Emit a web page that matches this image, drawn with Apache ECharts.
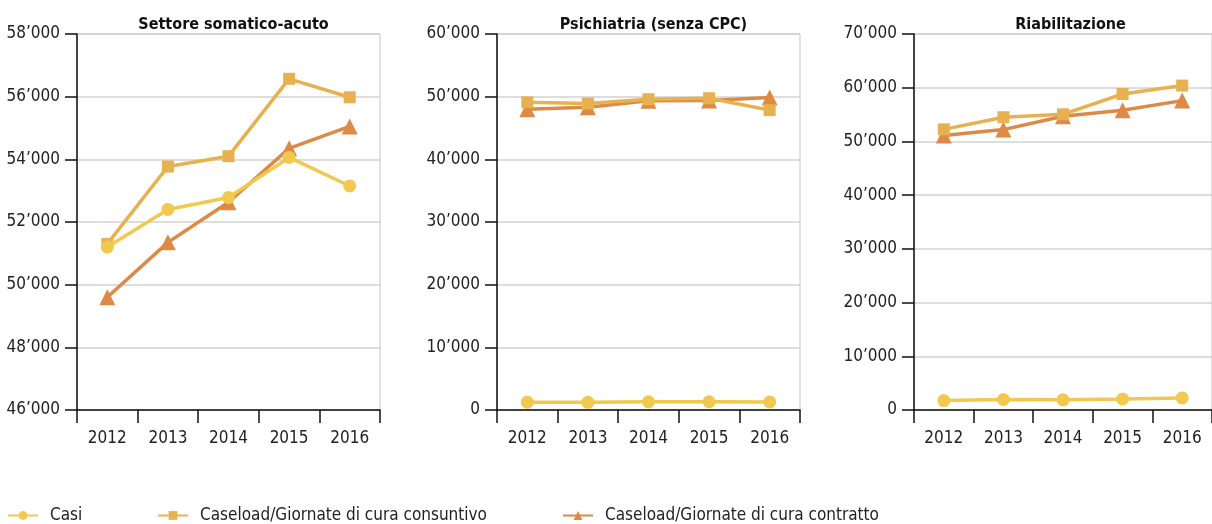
<!DOCTYPE html>
<html>
<head>
<meta charset="utf-8">
<script src="https://cdn.jsdelivr.net/npm/echarts@6/dist/echarts.min.js"></script>
<style>
  html, body { margin: 0; padding: 0; background: #fff; }
  #main { width: 1212px; height: 524px; }
</style>
</head>
<body>
<div id="main"></div>
<script>
// dati
var anni = ['2012', '2013', '2014', '2015', '2016'];
var titoli = ['Settore somatico-acuto', 'Psichiatria (senza CPC)', 'Riabilitazione'];
var nomi = ['Casi', 'Caseload/Giornate di cura consuntivo', 'Caseload/Giornate di cura contratto'];

// Settore somatico-acuto
var acutoCasi = [51200, 52400, 52780, 54060, 53150];
var acutoConsuntivo = [51300, 53770, 54100, 56570, 55980];
var acutoContratto = [49600, 51350, 52630, 54350, 55050];

// Psichiatria
var psiCasi = [1250, 1230, 1300, 1320, 1290];
var psiConsuntivo = [49100, 48900, 49600, 49750, 47850];
var psiContratto = [48000, 48300, 49350, 49400, 49850];

// Riabilitazione
var riaCasi = [1750, 1950, 1900, 2050, 2250];
var riaConsuntivo = [52250, 54500, 55050, 58830, 60400];
var riaContratto = [51100, 52200, 54700, 55800, 57600];

// assi y
var yMin = [46000, 0, 0];
var yMax = [58000, 60000, 70000];
var yStep = [2000, 10000, 10000];

var colori = ['#f2c94f', '#e8b14f', '#dc8a46'];
var simboli = ['circle', 'rect', 'triangle'];
var dimSimboli = [13, 12, 16];

var font = '"DejaVu Sans Condensed", "Liberation Sans Narrow", sans-serif';

function migliaia(v) {
    if (v === 0) return '0';
    var s = String(v);
    return s.slice(0, s.length - 3) + '\u2019' + s.slice(s.length - 3);
}

var dati = [
    [acutoCasi, acutoConsuntivo, acutoContratto],
    [psiCasi, psiConsuntivo, psiContratto],
    [riaCasi, riaConsuntivo, riaContratto]
];

var griglie = [
    { left: 77, right: 832 },
    { left: 497, right: 412 },
    { left: 914, right: -5 }
];

var myChart = echarts.init(document.getElementById('main'));

var grid = [], xAxis = [], yAxis = [], series = [], title = [];
for (var i = 0; i < 3; i++) {
    grid.push({
        left: griglie[i].left,
        right: griglie[i].right,
        top: 34,
        bottom: 114,
        show: true,
        borderColor: '#c4c4c4',
        borderWidth: 1
    });
    var centro = (griglie[i].left + (1212 - griglie[i].right)) / 2;
    title.push({
        text: titoli[i],
        left: centro,
        top: 12,
        textAlign: 'center',
        textStyle: { fontFamily: font, fontWeight: 'bold', fontSize: 16, color: '#111' }
    });
    xAxis.push({
        type: 'category',
        gridIndex: i,
        data: anni,
        boundaryGap: true,
        axisLine: { lineStyle: { color: '#111', width: 1.5 } },
        axisTick: { show: true, length: 13, lineStyle: { color: '#111', width: 1.5 } },
        axisLabel: { interval: 0, margin: 20, fontFamily: font, fontSize: 17, color: '#222' }
    });
    yAxis.push({
        type: 'value',
        gridIndex: i,
        min: yMin[i],
        max: yMax[i],
        interval: yStep[i],
        axisLine: { show: true, lineStyle: { color: '#111', width: 1.5 } },
        axisTick: { show: true, length: 12, lineStyle: { color: '#111', width: 1.5 } },
        axisLabel: { margin: 17, fontFamily: font, fontSize: 17, color: '#222', formatter: migliaia },
        splitLine: { show: true, lineStyle: { color: '#d2d2d2', width: 1.5 } }
    });
    // disegno prima il contratto, poi consuntivo, poi casi
    for (var k = 2; k >= 0; k--) {
        series.push({
            name: nomi[k],
            type: 'line',
            xAxisIndex: i,
            yAxisIndex: i,
            data: dati[i][k],
            symbol: simboli[k],
            symbolSize: dimSimboli[k],
            showAllSymbol: true,
            itemStyle: { color: colori[k] },
            lineStyle: { color: colori[k], width: 3.5 },
            z: 3 + (2 - k)
        });
    }
}

// tre legende separate per posizionarle come nell'originale
var legendePos = [2, 152, 557];
var legend = [];
for (var j = 0; j < 3; j++) {
    legend.push({
        data: [nomi[j]],
        left: legendePos[j],
        top: 502,
        itemWidth: 30,
        itemHeight: 11,
        textStyle: { fontFamily: font, fontSize: 17, color: '#222', padding: [0, 0, 0, 7] }
    });
}

var option = {
    animation: false,
    title: title,
    legend: legend,
    grid: grid,
    xAxis: xAxis,
    yAxis: yAxis,
    series: series
};
myChart.setOption(option);
</script>
</body>
</html>
